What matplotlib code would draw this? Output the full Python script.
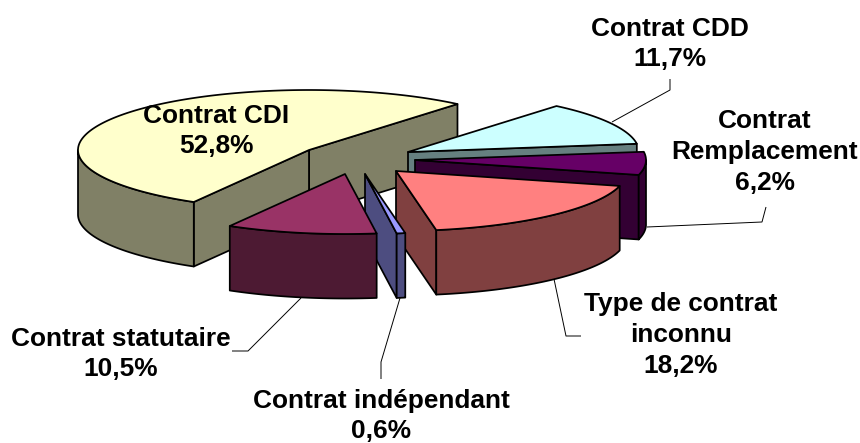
import numpy as np
import matplotlib
matplotlib.use("Agg")
import matplotlib.pyplot as plt
from matplotlib.patches import Polygon

plt.rcParams['font.family'] = ['Liberation Sans', 'DejaVu Sans']

# Data
categories = ["Contrat CDI", "Contrat CDD", "Contrat\nRemplacement",
              "Type de contrat\ninconnu", "Contrat indépendant", "Contrat statutaire"]
values = [52.8, 11.7, 6.2, 18.2, 0.6, 10.5]
value_labels = ["52,8%", "11,7%", "6,2%", "18,2%", "0,6%", "10,5%"]

# Styles
top_colors = ["#FFFFCC", "#CCFFFF", "#660066", "#FF8080", "#9999FF", "#993366"]
side_colors = ["#808066", "#668080", "#330033", "#804040", "#4D4D80", "#4D1A33"]

# Layout (pixel space of the figure)
RX, RY, DEPTH = 231, 60, 64.5
START_DEG = 50.0
apex_x = [309, 408, 415, 396, 365, 345]
apex_y = [150, 152, 160, 171, 174, 174]
label_xy = [(216, 131), (670, 44), (765, 152), (681, 335), (381, 416), (121, 354)]
leaders = [None,
           [(612, 122), (670, 90), (670, 79)],
           [(647, 227), (762, 222), (766, 207)],
           [(554, 279), (566, 336), (581, 336)],
           [(400, 298), (381, 362), (381, 379)],
           [(301, 298), (248, 351), (232, 351)]]

fig = plt.figure(figsize=(8.6, 4.43), dpi=100)
ax = fig.add_axes([0, 0, 1, 1])
ax.set_xlim(0, 860)
ax.set_ylim(443, 0)
ax.axis("off")

LW = 1.25
def poly(pts, fc):
    ax.add_patch(Polygon(pts, closed=True, facecolor=fc, edgecolor="black",
                         linewidth=LW, joinstyle="round"))

# angles run counter-clockwise: CDI, statutaire, indépendant, inconnu, remplacement, CDD
ccw_order = [0, 5, 4, 3, 2, 1]
ang = START_DEG
spans = {}
for i in ccw_order:
    spans[i] = (ang, ang + values[i] * 3.6)
    ang += values[i] * 3.6

def pt(i, a):
    r = np.radians(a)
    return np.array([apex_x[i] + RX * np.cos(r), apex_y[i] - RY * np.sin(r)])

for i in range(len(values)):
    a0, a1 = spans[i]
    apex = np.array([apex_x[i], apex_y[i]], float)
    down = np.array([0, DEPTH])
    # radial faces turned towards the viewer
    for a, visible in ((a0, np.cos(np.radians(a0)) > 0), (a1, np.cos(np.radians(a1)) < 0)):
        if visible:
            p = pt(i, a)
            poly([apex, p, p + down, apex + down], side_colors[i])
    # visible part of the outer wall (front half of the ellipse)
    lo, hi = max(a0, 180), min(a1, 360)
    if hi > lo:
        arc = np.array([pt(i, a) for a in np.linspace(lo, hi, 80)])
        poly(np.vstack([arc, arc[::-1] + down]), side_colors[i])
    # top face
    arc = np.array([pt(i, a) for a in np.linspace(a0, a1, 160)])
    poly(np.vstack([apex, arc]), top_colors[i])

for seg in leaders:
    if seg:
        xs, ys = zip(*seg)
        ax.plot(xs, ys, color="black", lw=0.7, solid_capstyle="butt")

for (x, y), c, v in zip(label_xy, categories, value_labels):
    ax.text(x, y, f"{c}\n{v}", ha="center", va="center", fontsize=18.9,
            fontweight="bold", color="black", linespacing=1.36)

fig.savefig("out.png", dpi=100)
